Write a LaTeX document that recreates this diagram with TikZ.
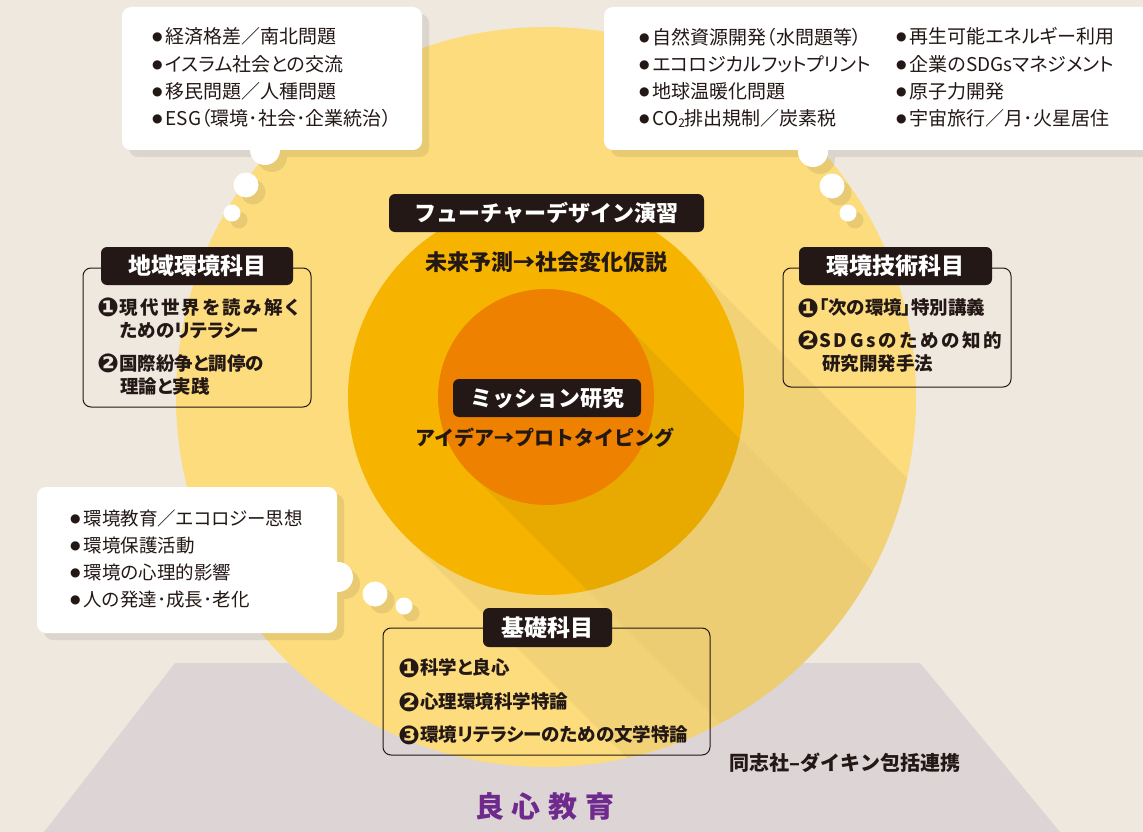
\documentclass[tikz,border=0pt]{standalone}
\usepackage{fontspec}
\setmainfont{Noto Sans CJK JP}
\newfontfamily\jp{Noto Sans CJK JP}
\newfontfamily\jpp[RawFeature=+palt]{Noto Sans CJK JP}
\newfontfamily\dv{DejaVu Sans}
\usetikzlibrary{calc}
\definecolor{bg}{HTML}{EFE8DF}
\definecolor{ylw}{HTML}{FCDC7C}
\definecolor{amb}{HTML}{F6B400}
\definecolor{org}{HTML}{EE8200}
\definecolor{ink}{HTML}{231815}
\definecolor{trap}{HTML}{DDD4D6}
\definecolor{purp}{HTML}{6E2A8C}
\newcommand\bu{\raisebox{3pt}{\dv\fontsize{12}{12}\selectfont ●}\hspace{3pt}}
\newcommand\nm[1]{\raisebox{-2.3pt}{\dv\fontsize{26}{26}\selectfont #1}}
\newcommand\lsp[2][2.4pt]{\def\lspsep{#1}\lspA#2\relax}
\def\lspA#1{\ifx\relax#1\else#1\hspace{\lspsep}\expandafter\lspA\fi}
\begin{document}
\begin{tikzpicture}[x=1pt,y=-1pt,
  bubtxt/.style={anchor=west,inner sep=0pt,text=ink,align=left,font=\jpp\fontsize{19}{27.2}\selectfont},
  itm/.style={anchor=west,inner sep=0pt,text=ink,align=left,font=\jpp\bfseries\fontsize{18.5}{23}\selectfont},
  lbl/.style={fill=ink,text=white,rounded corners=6pt,inner sep=0pt,minimum height=38pt,font=\jp\bfseries\fontsize{23}{23}\selectfont},
  frm/.style={draw=ink,line width=1pt,rounded corners=8pt},
  bub/.style={fill=white,rounded corners=9pt},
  ctxt/.style={inner sep=0pt,text=ink,font=\jp\bfseries\fontsize{22}{22}\selectfont}]
\useasboundingbox (0,0) rectangle (1143,832);
\fill[bg] (0,0) rectangle (1143,832);
\fill[trap] (175,663) -- (920,663) -- (1060,832) -- (44,832) -- cycle;
% circles and long shadows
\coordinate (C) at (546,397);
\fill[ylw] (C) circle (370pt);
\begin{scope}
  \clip (C) circle (370pt);
  \fill[black,opacity=0.045] (686,257) -- (1386,957) -- (1106,1237) -- (406,537) -- cycle;
  \fill[black,opacity=0.02] (622,321) -- (1122,821) -- (970,973) -- (470,473) -- cycle;
\end{scope}
\fill[amb] (C) circle (198pt);
\begin{scope}
  \clip (C) circle (198pt);
  \fill[black,opacity=0.055] (622,321) -- (1122,821) -- (970,973) -- (470,473) -- cycle;
\end{scope}
\fill[org] (C) circle (108pt);
% bubble shadows
\begin{scope}[transparency group,opacity=0.08,shift={(7,7)}]
  \fill[black,rounded corners=9pt] (122,7) rectangle (422,150);
  \fill[black] (265,150) circle (15pt);
  \fill[black] (246,185) circle (12.5pt);
  \fill[black] (232,213) circle (8.5pt);
  \fill[black,rounded corners=9pt] (604,7) rectangle (1160,150);
  \fill[black] (813,152) circle (15pt);
  \fill[black] (832,186) circle (12.5pt);
  \fill[black] (848,213) circle (8.5pt);
  \fill[black,rounded corners=9pt] (37,487) rectangle (337,633);
  \fill[black] (338,577) circle (15pt);
  \fill[black] (375,594) circle (12.5pt);
  \fill[black] (404,606) circle (8.5pt);
\end{scope}
% bubbles
\fill[bub] (122,7) rectangle (422,150);
\fill[white] (265,150) circle (15pt);
\fill[white] (246,185) circle (12.5pt);
\fill[white] (232,213) circle (8.5pt);
\fill[bub] (604,7) rectangle (1160,150);
\fill[white] (813,152) circle (15pt);
\fill[white] (832,186) circle (12.5pt);
\fill[white] (848,213) circle (8.5pt);
\fill[bub] (37,487) rectangle (337,633);
\fill[white] (338,577) circle (15pt);
\fill[white] (375,594) circle (12.5pt);
\fill[white] (404,606) circle (8.5pt);
% bubble texts
\node[bubtxt] (tl) at (152,77.5) {\bu 経済格差／南北問題\\\bu イスラム社会との交流\\\bu 移民問題／人種問題\\\bu ESG（環境･社会･企業統治）};
\node[bubtxt] (tr1) at (639,77.5) {\bu 自然資源開発（水問題等）\\\bu エコロジカルフットプリント\\\bu 地球温暖化問題\\\bu CO\raisebox{-1.5pt}{\fontsize{12}{12}\selectfont 2}排出規制／炭素税};
\node[bubtxt] (tr2) at (896,77.5) {\bu 再生可能エネルギー利用\\\bu 企業のSDGsマネジメント\\\bu 原子力開発\\\bu 宇宙旅行／月･火星居住};
\node[bubtxt,font=\jpp\fontsize{18.5}{27.3}\selectfont] (bl) at (70,559) {\bu 環境教育／エコロジー思想\\\bu 環境保護活動\\\bu 環境の心理的影響\\\bu 人の発達･成長･老化};
% frames
\draw[frm] (83,268) rectangle (311,407);
\draw[frm] (783,268) rectangle (1011,387);
\draw[frm] (383,628) rectangle (710,755);
% labels
\node[lbl,minimum width=192pt] (lreg) at (197,266) {地域環境科目};
\node[lbl,minimum width=193pt] (ltec) at (895.5,266) {環境技術科目};
\node[lbl,minimum width=129pt,minimum height=39pt] (lbas) at (547.5,627.5) {基礎科目};
\node[lbl,minimum width=315pt,font=\jp\bfseries\fontsize{22}{22}\selectfont] (lfut) at (546.5,213) {フューチャーデザイン演習};
\node[lbl,minimum width=188pt,font=\jp\bfseries\fontsize{22}{22}\selectfont] (lmis) at (547,398) {ミッション研究};
% items
\node[itm] (r1) at (97,318.5) {\nm{❶}\lsp{現代世界を読み解く}\\\hspace*{23pt}ためのリテラシー};
\node[itm] (r2) at (97,374.5) {\nm{❷}国際紛争と調停の\\\hspace*{23pt}理論と実践};
\node[itm] (t1) at (797,308) {\nm{❶}「次の環境」特別講義};
\node[itm] (t2) at (797,351.5) {\nm{❷}\lsp[2.8pt]{SDGsのための知的}\\\hspace*{25pt}研究開発手法};
\node[itm] (b1) at (398,668) {\nm{❶}科学と良心};
\node[itm] (b2) at (398,702) {\nm{❷}心理環境科学特論};
\node[itm] (b3) at (398,735) {\nm{❸}環境リテラシーのための文学特論};
% centre texts
\node[ctxt] (fut) at (546,262) {未来予測→社会変化仮説};
\node[ctxt,font=\jp\bfseries\fontsize{20}{20}\selectfont] (mis) at (545,438) {アイデア→プロトタイピング};
\node[ctxt,font=\jp\bfseries\fontsize{20}{20}\selectfont] (dk) at (845,763) {同志社–ダイキン包括連携};
\node[inner sep=0pt,text=purp,font=\jp\bfseries\fontsize{29}{29}\selectfont] (ryo) at (545,806) {良\hspace{8pt}心\hspace{8pt}教\hspace{8pt}育};
\end{tikzpicture}
\end{document}
